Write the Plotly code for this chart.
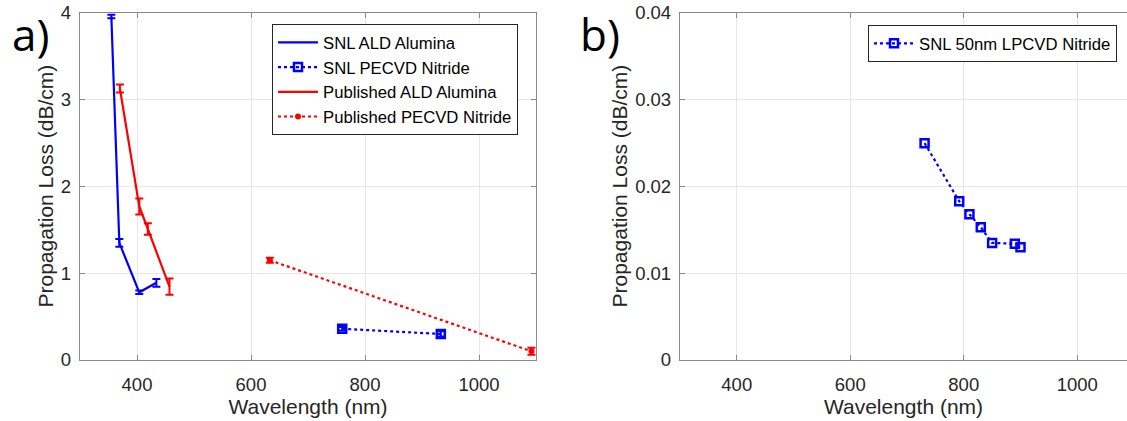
import plotly.graph_objects as go

# ---- data (panel a) ----
snl_ald_x = [355, 369, 404, 434]
snl_ald_y = [3.96, 1.35, 0.78, 0.89]
snl_ald_e = [0.02, 0.045, 0.02, 0.045]

snl_pecvd_x = [760, 933]
snl_pecvd_y = [0.36, 0.30]
snl_pecvd_e = [0.02, 0.03]

pub_ald_x = [370, 404, 419, 457]
pub_ald_y = [3.13, 1.77, 1.51, 0.845]
pub_ald_e = [0.046, 0.092, 0.065, 0.094]

pub_pecvd_x = [633, 1092]
pub_pecvd_y = [1.15, 0.10]
pub_pecvd_e = [0.03, 0.04]

# ---- data (panel b) ----
lp_x = [731, 792, 810, 830, 850, 890, 900]
lp_y = [0.0250, 0.0183, 0.0168, 0.0153, 0.0135, 0.0134, 0.0130]

xticks = [400, 600, 800, 1000]
yticks_a = [0, 1, 2, 3, 4]
yticks_b = [0, 0.01, 0.02, 0.03, 0.04]
ytick_text_b = ["0", "0.01", "0.02", "0.03", "0.04"]

BLUE = "#0000FF"
RED = "#FF0000"
FONT = "Liberation Sans, Arial, sans-serif"
TXT = "#262626"
AX = "#8a8a8a"
GRID = "#e6e6e6"

W, H = 1127, 421

fig = go.Figure()

def eb(arr, color):
    return dict(type="data", array=arr, visible=True, color=color, thickness=2, width=4)

fig.add_trace(go.Scatter(x=snl_ald_x, y=snl_ald_y, mode="lines", name="SNL ALD Alumina",
                         line=dict(color=BLUE, width=2.2), error_y=eb(snl_ald_e, BLUE),
                         xaxis="x", yaxis="y", legend="legend"))
fig.add_trace(go.Scatter(x=snl_pecvd_x, y=snl_pecvd_y, mode="lines+markers", name="SNL PECVD Nitride",
                         line=dict(color=BLUE, width=2.2, dash="dot"),
                         marker=dict(symbol="square-open", size=8, color=BLUE, line=dict(width=2.5, color=BLUE)),
                         error_y=eb(snl_pecvd_e, BLUE), xaxis="x", yaxis="y", legend="legend"))
fig.add_trace(go.Scatter(x=pub_ald_x, y=pub_ald_y, mode="lines", name="Published ALD Alumina",
                         line=dict(color=RED, width=2.2), error_y=eb(pub_ald_e, RED),
                         xaxis="x", yaxis="y", legend="legend"))
fig.add_trace(go.Scatter(x=pub_pecvd_x, y=pub_pecvd_y, mode="lines+markers", name="Published PECVD Nitride",
                         line=dict(color=RED, width=2.2, dash="dot"),
                         marker=dict(symbol="circle", size=6, color=RED),
                         error_y=eb(pub_pecvd_e, RED), xaxis="x", yaxis="y", legend="legend"))

fig.add_trace(go.Scatter(x=lp_x, y=lp_y, mode="lines+markers", name="SNL 50nm LPCVD Nitride",
                         line=dict(color=BLUE, width=2.2, dash="dot"),
                         marker=dict(symbol="square-open", size=8, color=BLUE, line=dict(width=2.5, color=BLUE)),
                         xaxis="x2", yaxis="y2", legend="legend2"))

ytop = 1 - 13 / H
ybot = 1 - 360 / H

common_x = dict(tickvals=xticks, ticks="inside", ticklen=5, tickcolor=AX, showline=True,
                linecolor=AX, linewidth=1.3, showgrid=True, gridcolor=GRID, gridwidth=1,
                zeroline=False, tickfont=dict(family=FONT, size=18.5, color=TXT),
                ticklabelstandoff=8,
                title=dict(text="Wavelength (nm)", font=dict(family=FONT, size=21, color=TXT), standoff=4))
common_y = dict(ticks="inside", ticklen=5, tickcolor=AX, showline=True, linecolor=AX, linewidth=1.3,
                showgrid=True, gridcolor=GRID, gridwidth=1, zeroline=False,
                tickfont=dict(family=FONT, size=18.5, color=TXT), ticklabelstandoff=4)

fig.update_layout(
    width=W, height=H,
    margin=dict(l=0, r=0, t=0, b=0, autoexpand=False),
    paper_bgcolor="white", plot_bgcolor="white",
    xaxis=dict(domain=[80 / W, 536 / W], range=[300, 1100], mirror="ticks", anchor="y", **common_x),
    yaxis=dict(domain=[ybot, ytop], range=[0, 4], tickvals=yticks_a, mirror="ticks", anchor="x", **common_y),
    xaxis2=dict(domain=[680 / W, 1.0], range=[300, 300 + (W - 680) / 0.5675], mirror="ticks", anchor="y2", **common_x),
    yaxis2=dict(domain=[ybot, ytop], range=[0, 0.04], tickvals=yticks_b, ticktext=ytick_text_b,
                mirror=False, anchor="x2", **common_y),
    legend=dict(x=272 / W, y=1 - 24 / H, xanchor="left", yanchor="top",
                bgcolor="white", bordercolor=TXT, borderwidth=1,
                font=dict(family=FONT, size=16.7, color="black"), itemwidth=40,
                tracegroupgap=0),
    legend2=dict(x=868 / W, y=1 - 25 / H, xanchor="left", yanchor="top",
                 bgcolor="white", bordercolor=TXT, borderwidth=1,
                 font=dict(family=FONT, size=16.7, color="black"), itemwidth=40),
    annotations=[
        dict(text="Propagation Loss (dB/cm)", xref="paper", yref="paper", x=45 / W, y=(ybot + ytop) / 2,
             xanchor="center", yanchor="middle", textangle=-90, showarrow=False,
             font=dict(family=FONT, size=21, color=TXT)),
        dict(text="Propagation Loss (dB/cm)", xref="paper", yref="paper", x=619 / W, y=(ybot + ytop) / 2,
             xanchor="center", yanchor="middle", textangle=-90, showarrow=False,
             font=dict(family=FONT, size=21, color=TXT)),
        dict(text="a)", xref="paper", yref="paper", x=10 / W, y=1 - 2 / H, xanchor="left", yanchor="top",
             showarrow=False, font=dict(family="Open Sans, sans-serif", size=44, color="black")),
        dict(text="b)", xref="paper", yref="paper", x=578 / W, y=1 - 2 / H, xanchor="left", yanchor="top",
             showarrow=False, font=dict(family="Open Sans, sans-serif", size=44, color="black")),
    ],
)

fig.write_html("out.html", config={"displayModeBar": False},
               post_script="document.body.style.margin='0';document.body.style.overflow='hidden';")
